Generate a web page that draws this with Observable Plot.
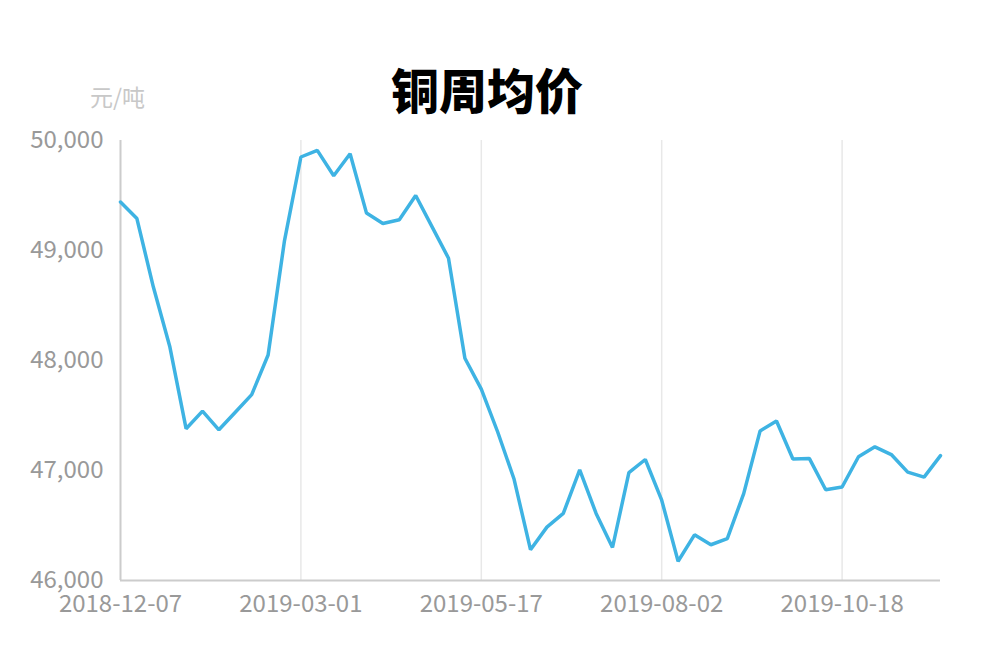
<!DOCTYPE html>
<html>
<head>
<meta charset="utf-8">
<script src="https://cdn.jsdelivr.net/npm/d3@7"></script>
<script src="https://cdn.jsdelivr.net/npm/@observablehq/plot@0.6"></script>
<style>
  html, body { margin: 0; padding: 0; background: #fff; }
  #wrap { position: relative; width: 1000px; height: 660px; font-family: "Noto Sans CJK SC", "Noto Sans", sans-serif; }
  #title { position: absolute; left: 0; width: 974px; top: 64px; line-height: 48px; text-align: center; font-size: 48px; font-weight: 900; color: #000; }
  #unit { position: absolute; left: 90px; top: 85px; line-height: 23px; font-size: 23px; color: #c8c8c8; }
</style>
</head>
<body>
<div id="wrap">
  <div id="chart"></div>
  <div id="title">铜周均价</div>
  <div id="unit">元/吨</div>
</div>
<script>
const dates = [
  "2018-12-07","2018-12-14","2018-12-21","2018-12-28","2019-01-04","2019-01-11","2019-01-18","2019-01-25",
  "2019-02-01","2019-02-15","2019-02-22","2019-03-01","2019-03-08","2019-03-15","2019-03-22","2019-03-29",
  "2019-04-05","2019-04-12","2019-04-19","2019-04-26","2019-05-03","2019-05-10","2019-05-17","2019-05-24",
  "2019-05-31","2019-06-07","2019-06-14","2019-06-21","2019-06-28","2019-07-05","2019-07-12","2019-07-19",
  "2019-07-26","2019-08-02","2019-08-09","2019-08-16","2019-08-23","2019-08-30","2019-09-06","2019-09-13",
  "2019-09-20","2019-09-27","2019-10-04","2019-10-11","2019-10-18","2019-10-25","2019-11-01","2019-11-08",
  "2019-11-15","2019-11-22","2019-11-29"
];
const prices = [
  49440, 49290, 48670, 48130, 47380, 47540, 47370, 47530,
  47690, 48050, 49090, 49850, 49910, 49680, 49880, 49340,
  49245, 49280, 49500, 49215, 48930, 48020, 47740, 47350,
  46920, 46280, 46485, 46610, 47005, 46610, 46300, 46980,
  47100, 46730, 46175, 46415, 46325, 46380, 46790, 47360,
  47450, 47105, 47110, 46825, 46850, 47125, 47215, 47145,
  46985, 46940, 47135
];
const xTicks = ["2018-12-07","2019-03-01","2019-05-17","2019-08-02","2019-10-18"];
const yTicks = [46000, 47000, 48000, 49000, 50000];

const data = dates.map((d, i) => ({date: d, price: prices[i]}));

const chart = Plot.plot({
  width: 1000,
  height: 660,
  marginLeft: 120,
  marginRight: 60,
  marginTop: 140,
  marginBottom: 80,
  style: {fontFamily: '"Noto Sans CJK SC", "Noto Sans", sans-serif', fontSize: "24px", color: "#999", background: "#fff"},
  x: {type: "point", domain: dates, padding: 0, round: false, range: [120, 940]},
  y: {domain: [46000, 50000], range: [580, 140]},
  marks: [
    Plot.ruleX(xTicks.slice(1), {stroke: "#e8e8e8", strokeWidth: 1.5}),
    Plot.ruleX([xTicks[0]], {stroke: "#cccccc", strokeWidth: 2}),
    Plot.ruleY([46000], {stroke: "#cccccc", strokeWidth: 2}),
    Plot.axisY({ticks: yTicks, tickFormat: d3.format(","), tickSize: 0, tickPadding: 17, fontSize: 24, label: null}),
    Plot.axisX({ticks: xTicks, tickSize: 0, tickPadding: 14, fontSize: 24, label: null}),
    Plot.line(data, {x: "date", y: "price", stroke: "#3eb3e3", strokeWidth: 3.5, strokeLinejoin: "miter"})
  ]
});
document.getElementById("chart").appendChild(chart);
</script>
</body>
</html>
